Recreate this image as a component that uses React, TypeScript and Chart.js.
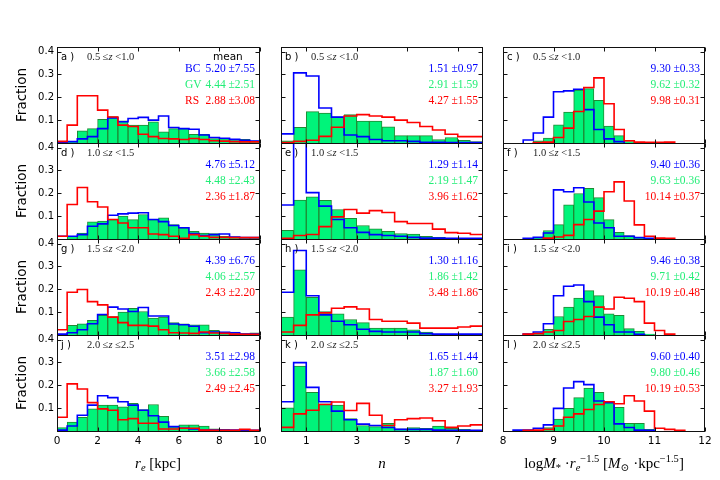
import React, { useEffect, useRef } from "react";
import { Chart, registerables } from "chart.js";

Chart.register(...registerables);
Chart.defaults.font.family = "'DejaVu Sans', sans-serif";
Chart.defaults.color = "#000";

// left edges of the histogram bins
const reEdges = [0, 0.5, 1, 1.5, 2, 2.5, 3, 3.5, 4, 4.5, 5, 5.5, 6, 6.5, 7, 7.5, 8, 8.5, 9, 9.5];
const nEdges = [0, 0.5, 1, 1.5, 2, 2.5, 3, 3.5, 4, 4.5, 5, 5.5, 6, 6.5, 7, 7.5];
const denEdges = [8.0, 8.2, 8.4, 8.6, 8.8, 9.0, 9.2, 9.4, 9.6, 9.8, 10.0, 10.2, 10.4, 10.6, 10.8, 11.0, 11.2, 11.4, 11.6, 11.8];

const reTicks = [0, 2, 4, 6, 8, 10];
const nTicks = [1, 3, 5, 7];
const denTicks = [8, 9, 10, 11, 12];
const fracTicks = [0.1, 0.2, 0.3, 0.4];

// r_e histograms (column 1)
const aBC = [0.004, 0.006, 0.018, 0.028, 0.063, 0.11, 0.093, 0.107, 0.112, 0.1, 0.118, 0.068, 0.063, 0.06, 0.035, 0.024, 0.021, 0.016, 0.012, 0.009];
const aGV = [0, 0.007, 0.053, 0.063, 0.104, 0.116, 0.097, 0.078, 0.078, 0.093, 0.049, 0.063, 0.063, 0.038, 0.038, 0.019, 0.019, 0.016, 0.016, 0.009];
const aRS = [0.007, 0.078, 0.207, 0.207, 0.144, 0.114, 0.078, 0.072, 0.038, 0.028, 0.02, 0.018, 0.015, 0.02, 0.015, 0.01, 0.008, 0.006, 0.005, 0.005];

const dBC = [0.012, 0.012, 0.019, 0.056, 0.066, 0.104, 0.11, 0.113, 0.115, 0.085, 0.076, 0.059, 0.049, 0.024, 0.015, 0.019, 0.022, 0.009, 0.006, 0.006];
const dGV = [0, 0.012, 0.026, 0.075, 0.078, 0.085, 0.1, 0.085, 0.107, 0.085, 0.093, 0.063, 0.049, 0.034, 0.026, 0.024, 0.012, 0.009, 0.006, 0.004];
const dRS = [0.012, 0.151, 0.225, 0.163, 0.14, 0.085, 0.07, 0.049, 0.049, 0.022, 0.019, 0.012, 0.003, 0.019, 0.012, 0.007, 0.007, 0.006, 0.006, 0.006];

const gBC = [0.004, 0.01, 0.023, 0.049, 0.09, 0.122, 0.114, 0.103, 0.12, 0.083, 0.083, 0.048, 0.045, 0.038, 0.01, 0.013, 0.012, 0.01, 0.004, 0.004];
const gGV = [0, 0.042, 0.049, 0.064, 0.086, 0.081, 0.1, 0.117, 0.103, 0.074, 0.078, 0.054, 0.049, 0.045, 0.045, 0.02, 0.013, 0.013, 0.006, 0.009];
const gRS = [0.023, 0.187, 0.199, 0.146, 0.132, 0.078, 0.054, 0.042, 0.042, 0.039, 0.023, 0.01, 0.009, 0.007, 0.013, 0.009, 0.007, 0.004, 0.003, 0.003];

const jBC = [0.004, 0.022, 0.069, 0.113, 0.154, 0.146, 0.128, 0.113, 0.091, 0.067, 0.039, 0.019, 0.012, 0.009, 0.004, 0.004, 0.004, 0.004, 0.003, 0.003];
const jGV = [0.015, 0.039, 0.06, 0.097, 0.113, 0.113, 0.106, 0.121, 0.094, 0.116, 0.064, 0.019, 0.027, 0.027, 0.022, 0.009, 0.007, 0.003, 0.003, 0.003];
const jRS = [0.06, 0.206, 0.184, 0.124, 0.097, 0.091, 0.049, 0.054, 0.034, 0.034, 0.009, 0.009, 0.012, 0.012, 0.004, 0.003, 0.003, 0.003, 0.007, 0.003];

// Sersic n histograms (column 2)
const bBC = [0.04, 0.307, 0.293, 0.153, 0.113, 0.035, 0.028, 0.015, 0.01, 0.01, 0.007, 0.003, 0.003, 0.002, 0.002, 0.002];
const bGV = [0.009, 0.069, 0.137, 0.131, 0.115, 0.124, 0.096, 0.096, 0.071, 0.032, 0.032, 0.032, 0.015, 0.024, 0.012, 0.006];
const bRS = [0.002, 0.007, 0.012, 0.029, 0.069, 0.118, 0.124, 0.118, 0.113, 0.1, 0.09, 0.072, 0.057, 0.038, 0.028, 0.028];

const eBC = [0.149, 0.45, 0.203, 0.144, 0.085, 0.049, 0.029, 0.019, 0.015, 0.012, 0.007, 0.004, 0.004, 0.003, 0.003, 0.003];
const eGV = [0.038, 0.17, 0.185, 0.169, 0.129, 0.09, 0.059, 0.044, 0.034, 0.024, 0.021, 0.012, 0.007, 0.004, 0.003, 0.003];
const eRS = [0.003, 0.015, 0.02, 0.054, 0.097, 0.129, 0.113, 0.124, 0.116, 0.076, 0.068, 0.068, 0.043, 0.028, 0.025, 0.02];

const hBC = [0.187, 0.37, 0.172, 0.088, 0.06, 0.045, 0.025, 0.016, 0.013, 0.013, 0.013, 0.006, 0.004, 0.004, 0.004, 0.004];
const hGV = [0.078, 0.285, 0.165, 0.103, 0.093, 0.068, 0.054, 0.03, 0.03, 0.03, 0.023, 0.013, 0.004, 0.003, 0.003, 0.003];
const hRS = [0.013, 0.042, 0.088, 0.097, 0.117, 0.123, 0.114, 0.068, 0.06, 0.06, 0.052, 0.03, 0.03, 0.03, 0.035, 0.039];

const kBC = [0.128, 0.299, 0.191, 0.128, 0.087, 0.049, 0.03, 0.024, 0.015, 0.007, 0.007, 0.007, 0.004, 0.003, 0.003, 0.003];
const kGV = [0.101, 0.284, 0.169, 0.119, 0.113, 0.054, 0.024, 0.019, 0.034, 0.009, 0.015, 0.012, 0.022, 0.012, 0.007, 0.004];
const kRS = [0.016, 0.075, 0.091, 0.116, 0.127, 0.09, 0.121, 0.069, 0.024, 0.049, 0.054, 0.057, 0.045, 0.016, 0.022, 0.027];

// log M* r_e^-1.5 histograms (column 3)
const cBC = [0, 0, 0.013, 0.044, 0.113, 0.224, 0.228, 0.235, 0.146, 0.059, 0.018, 0.006, 0, 0, 0, 0, 0, 0, 0, 0];
const cGV = [0, 0, 0, 0.009, 0.021, 0.079, 0.135, 0.231, 0.238, 0.187, 0.074, 0.032, 0.006, 0, 0, 0, 0, 0, 0, 0];
const cRS = [0, 0, 0, 0.002, 0.004, 0.024, 0.065, 0.138, 0.243, 0.285, 0.172, 0.059, 0.01, 0.004, 0.003, 0.003, 0.004, 0, 0, 0];

const fBC = [0, 0, 0.003, 0.007, 0.026, 0.215, 0.207, 0.224, 0.162, 0.07, 0.049, 0.012, 0.012, 0.006, 0.003, 0, 0, 0, 0, 0];
const fGV = [0, 0, 0, 0.007, 0.037, 0.063, 0.149, 0.199, 0.222, 0.181, 0.085, 0.029, 0.015, 0.006, 0, 0, 0, 0, 0, 0];
const fRS = [0, 0, 0, 0, 0.004, 0.009, 0.016, 0.063, 0.085, 0.122, 0.207, 0.25, 0.166, 0.062, 0.012, 0.004, 0.003, 0, 0, 0];

const iBC = [0, 0, 0.004, 0.013, 0.049, 0.172, 0.213, 0.219, 0.146, 0.078, 0.045, 0.013, 0.013, 0.003, 0, 0, 0, 0, 0, 0];
const iGV = [0, 0, 0, 0.01, 0.025, 0.081, 0.122, 0.161, 0.194, 0.172, 0.093, 0.086, 0.028, 0.016, 0.004, 0, 0, 0, 0, 0];
const iRS = [0, 0, 0.004, 0.006, 0.013, 0.02, 0.059, 0.068, 0.081, 0.122, 0.114, 0.165, 0.161, 0.146, 0.052, 0.02, 0.004, 0, 0, 0];

const lBC = [0, 0.004, 0.004, 0.012, 0.027, 0.099, 0.188, 0.216, 0.203, 0.131, 0.124, 0.031, 0.015, 0.004, 0.003, 0, 0, 0, 0, 0];
const lGV = [0, 0, 0, 0.004, 0.015, 0.052, 0.099, 0.146, 0.188, 0.169, 0.128, 0.104, 0.034, 0.034, 0.007, 0, 0, 0, 0, 0];
const lRS = [0, 0, 0.003, 0.004, 0.007, 0.022, 0.06, 0.075, 0.094, 0.116, 0.128, 0.119, 0.154, 0.131, 0.087, 0.012, 0.007, 0.003, 0, 0];

const panelLetters = ["a", "b", "c", "d", "e", "f", "g", "h", "i", "j", "k", "l"];
const zLow = ["0.5", "1.0", "1.5", "2.0"];
const zHigh = ["1.0", "1.5", "2.0", "2.5"];
const zUpperOp = ["<", "<", "<", "≤"];

const meanBC = ["5.20 ±7.55", "1.51 ±0.97", "9.30 ±0.33", "4.76 ±5.12", "1.29 ±1.14", "9.40 ±0.36", "4.39 ±6.76", "1.30 ±1.16", "9.46 ±0.38", "3.51 ±2.98", "1.65 ±1.44", "9.60 ±0.40"];
const meanGV = ["4.44 ±2.51", "2.91 ±1.59", "9.62 ±0.32", "4.48 ±2.43", "2.19 ±1.47", "9.63 ±0.36", "4.06 ±2.57", "1.86 ±1.42", "9.71 ±0.42", "3.66 ±2.58", "1.87 ±1.60", "9.80 ±0.46"];
const meanRS = ["2.88 ±3.08", "4.27 ±1.55", "9.98 ±0.31", "2.36 ±1.87", "3.96 ±1.62", "10.14 ±0.37", "2.43 ±2.20", "3.48 ±1.86", "10.19 ±0.48", "2.49 ±2.45", "3.27 ±1.93", "10.19 ±0.53"];

const panelSeries = [
  [aBC, aGV, aRS], [bBC, bGV, bRS], [cBC, cGV, cRS],
  [dBC, dGV, dRS], [eBC, eGV, eRS], [fBC, fGV, fRS],
  [gBC, gGV, gRS], [hBC, hGV, hRS], [iBC, iGV, iRS],
  [jBC, jGV, jRS], [kBC, kGV, kRS], [lBC, lGV, lRS],
];

const columns = [
  { edges: reEdges, binW: 0.5, ticks: reTicks, min: 0, max: 10 },
  { edges: nEdges, binW: 0.5, ticks: nTicks, min: 0, max: 8 },
  { edges: denEdges, binW: 0.2, ticks: denTicks, min: 8, max: 12 },
];

const BC_COLOR = "#0000ff";
const RS_COLOR = "#ff0000";
const GV_FILL = "#00f47a";
const GV_EDGE = "#1f8a33";
const GV_TEXT = "#22ee77";

const COL_LEFT = [57, 281, 503];
const COL_W = [203, 202, 202];
const ROW_TOP = [47, 143, 239, 335];
const ROW_H = 96;
const PAD_L = 45;
const PAD_R = 14;
const PAD_T = 12;
const PAD_B = 22;

const SERIF = "'Liberation Serif', 'DejaVu Serif', serif";
const SANS = "'DejaVu Sans', sans-serif";

// outline of a step histogram over its non-empty bins, from the baseline and back to it
function stepPoints(edges: number[], w: number, vals: number[]) {
  let first = vals.findIndex((v) => v > 0);
  if (first < 0) first = 0;
  let last = vals.length - 1;
  while (last > first && vals[last] <= 0) last--;
  const end = edges[last] + w;
  const pts = [{ x: edges[first], y: 0 }];
  for (let i = first; i <= last; i++) pts.push({ x: edges[i], y: vals[i] });
  pts.push({ x: end, y: vals[last] });
  pts.push({ x: end, y: 0 });
  return pts;
}

// matplotlib-like frame with inward ticks on all four sides
const framePlugin = {
  id: "frame",
  afterDraw(chart: any) {
    const { ctx, chartArea: a, scales } = chart;
    const l = Math.round(a.left) + 0.5;
    const t = Math.round(a.top) + 0.5;
    const r = Math.round(a.right) - 0.5;
    const b = Math.round(a.bottom) + 0.5;
    ctx.save();
    ctx.strokeStyle = "#111";
    ctx.lineWidth = 1;
    ctx.beginPath();
    scales.x.ticks.forEach((tk: any) => {
      const px = Math.round(scales.x.getPixelForValue(tk.value)) + 0.5;
      ctx.moveTo(px, b);
      ctx.lineTo(px, b - 4);
      ctx.moveTo(px, t);
      ctx.lineTo(px, t + 4);
    });
    scales.y.ticks.forEach((tk: any) => {
      const py = Math.round(scales.y.getPixelForValue(tk.value)) + 0.5;
      ctx.moveTo(l, py);
      ctx.lineTo(l + 4, py);
      ctx.moveTo(r, py);
      ctx.lineTo(r - 4, py);
    });
    ctx.stroke();
    ctx.strokeRect(l, t, r - l, b - t);
    ctx.restore();
  },
};

function HistPanel({ row, col }: { row: number; col: number }) {
  const canvasRef = useRef<HTMLCanvasElement>(null);
  const axis = columns[col];
  const [bc, gv, rs] = panelSeries[row * 3 + col];
  const w = PAD_L + COL_W[col] + PAD_R;
  const h = PAD_T + ROW_H + PAD_B;

  useEffect(() => {
    if (!canvasRef.current) return;
    const chart = new Chart(canvasRef.current, {
      type: "bar",
      data: {
        datasets: [
          {
            type: "line",
            label: "RS",
            data: stepPoints(axis.edges, axis.binW, rs),
            borderColor: RS_COLOR,
            borderWidth: 1.6,
            pointRadius: 0,
            stepped: "before",
            fill: false,
            order: 1,
          },
          {
            type: "line",
            label: "BC",
            data: stepPoints(axis.edges, axis.binW, bc),
            borderColor: BC_COLOR,
            borderWidth: 1.6,
            pointRadius: 0,
            stepped: "before",
            fill: false,
            order: 2,
          },
          {
            type: "bar",
            label: "GV",
            data: gv.map((v, i) => ({ x: axis.edges[i] + axis.binW / 2, y: v })),
            backgroundColor: GV_FILL,
            borderColor: GV_EDGE,
            borderWidth: 1,
            barPercentage: 1,
            categoryPercentage: 1,
            order: 3,
          },
        ],
      } as any,
      options: {
        animation: false,
        responsive: false,
        events: [],
        layout: { padding: { top: PAD_T, right: PAD_R, left: 0, bottom: 0 } },
        plugins: { legend: { display: false }, tooltip: { enabled: false } },
        scales: {
          x: {
            type: "linear",
            min: axis.min,
            max: axis.max,
            offset: false,
            grid: { display: false, drawTicks: false },
            border: { display: false },
            afterBuildTicks: (s: any) => {
              s.ticks = axis.ticks.map((value) => ({ value }));
            },
            afterFit: (s: any) => {
              s.height = PAD_B;
            },
            ticks: { display: row === 3, padding: 4, autoSkip: false, maxRotation: 0, font: { size: 10.5 } },
          },
          y: {
            type: "linear",
            min: 0,
            max: 0.42,
            grid: { display: false, drawTicks: false },
            border: { display: false },
            afterBuildTicks: (s: any) => {
              s.ticks = fracTicks.map((value) => ({ value }));
            },
            afterFit: (s: any) => {
              s.width = PAD_L;
            },
            ticks: { display: col === 0, padding: 3, font: { size: 10 } },
          },
        },
      } as any,
      plugins: [framePlugin],
    });
    return () => chart.destroy();
  }, []);

  return (
    <canvas
      ref={canvasRef}
      width={w}
      height={h}
      style={{ position: "absolute", left: COL_LEFT[col] - PAD_L, top: ROW_TOP[row] - PAD_T, width: w, height: h }}
    />
  );
}

const textBase: React.CSSProperties = {
  position: "absolute",
  whiteSpace: "nowrap",
  lineHeight: 1,
  transform: "translateY(-50%)",
};

const subStyle: React.CSSProperties = { fontSize: "70%", verticalAlign: "-0.3em", lineHeight: 0 };
const supStyle: React.CSSProperties = { fontSize: "70%", verticalAlign: "0.55em", lineHeight: 0 };

function PanelText({ row, col }: { row: number; col: number }) {
  const idx = row * 3 + col;
  const left = COL_LEFT[col];
  const top = ROW_TOP[row];
  const right = 720 - (left + COL_W[col] - 5);
  return (
    <>
      <div style={{ ...textBase, left: left + 4, top: top + 10, fontFamily: SANS, fontSize: 10 }}>
        {panelLetters[idx]} )
      </div>
      <div style={{ ...textBase, left: left + 30, top: top + 10, fontFamily: SERIF, fontSize: 10.5, color: "#222" }}>
        {zLow[row]} ≤<i>z</i> {zUpperOp[row]}
        {zHigh[row]}
      </div>
      <div style={{ ...textBase, right, top: top + 22, fontFamily: SERIF, fontSize: 11.5, color: BC_COLOR }}>
        {meanBC[idx]}
      </div>
      <div style={{ ...textBase, right, top: top + 38, fontFamily: SERIF, fontSize: 11.5, color: GV_TEXT }}>
        {meanGV[idx]}
      </div>
      <div style={{ ...textBase, right, top: top + 54, fontFamily: SERIF, fontSize: 11.5, color: RS_COLOR }}>
        {meanRS[idx]}
      </div>
    </>
  );
}

export default function App() {
  const cells: { row: number; col: number }[] = [];
  for (let row = 0; row < 4; row++) for (let col = 0; col < 3; col++) cells.push({ row, col });
  const top0 = ROW_TOP[0];
  return (
    <div style={{ position: "absolute", left: 0, top: 0, width: 720, height: 480, background: "#fff", overflow: "hidden" }}>
      {cells.map((c) => (
        <HistPanel key={`p${c.row}${c.col}`} row={c.row} col={c.col} />
      ))}
      {cells.map((c) => (
        <PanelText key={`t${c.row}${c.col}`} row={c.row} col={c.col} />
      ))}
      <div style={{ ...textBase, left: 213, top: top0 + 9, fontFamily: SANS, fontSize: 10.5 }}>mean</div>
      <div style={{ ...textBase, left: 185, top: top0 + 22, fontFamily: SERIF, fontSize: 11.5, color: BC_COLOR }}>BC</div>
      <div style={{ ...textBase, left: 185, top: top0 + 38, fontFamily: SERIF, fontSize: 11.5, color: GV_TEXT }}>GV</div>
      <div style={{ ...textBase, left: 185, top: top0 + 54, fontFamily: SERIF, fontSize: 11.5, color: RS_COLOR }}>RS</div>
      {ROW_TOP.map((t) => (
        <div
          key={`f${t}`}
          style={{
            position: "absolute",
            left: 22,
            top: t + ROW_H / 2,
            transform: "translate(-50%, -50%) rotate(-90deg)",
            fontFamily: SANS,
            fontSize: 13.5,
            lineHeight: 1,
            whiteSpace: "nowrap",
          }}
        >
          Fraction
        </div>
      ))}
      <div style={{ ...textBase, left: 158, top: 463, transform: "translate(-50%, -50%)", fontFamily: SERIF, fontSize: 15 }}>
        <i>r</i>
        <span style={subStyle}>
          <i>e</i>
        </span>{" "}
        [kpc]
      </div>
      <div style={{ ...textBase, left: 382, top: 463, transform: "translate(-50%, -50%)", fontFamily: SERIF, fontSize: 15 }}>
        <i>n</i>
      </div>
      <div style={{ ...textBase, left: 604, top: 463, transform: "translate(-50%, -50%)", fontFamily: SERIF, fontSize: 15 }}>
        log<i>M</i>
        <span style={subStyle}>*</span> ·<i>r</i>
        <span style={subStyle}>
          <i>e</i>
        </span>
        <span style={supStyle}>−1.5</span> [<i>M</i>
        <span style={subStyle}>⊙</span> ·kpc<span style={supStyle}>−1.5</span>]
      </div>
    </div>
  );
}
